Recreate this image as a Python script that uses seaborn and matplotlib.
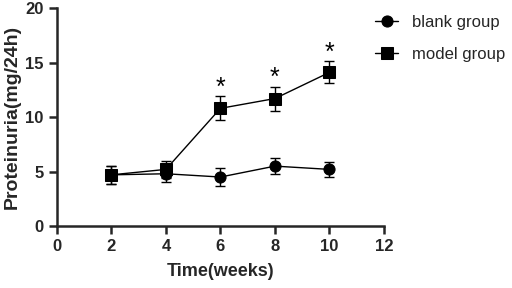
import numpy as np
import pandas as pd
import matplotlib
matplotlib.use("Agg")
import matplotlib.pyplot as plt
import seaborn as sns

# valeurs (moyenne ± erreur)
weeks = [2, 4, 6, 8, 10]
blank_mean = [4.7, 4.8, 4.5, 5.5, 5.2]
blank_err = [0.8, 0.8, 0.8, 0.7, 0.7]
model_mean = [4.7, 5.2, 10.8, 11.7, 14.1]
model_err = [0.8, 0.8, 1.1, 1.1, 1.0]
star_weeks = [6, 8, 10]

df = pd.DataFrame({
    "week": weeks * 2,
    "value": blank_mean + model_mean,
    "group": ["blank group"] * 5 + ["model group"] * 5,
})

sns.set_style("ticks")
plt.rcParams["font.family"] = ["Liberation Sans", "DejaVu Sans"]

fig = plt.figure(figsize=(5.12, 2.88), dpi=100)
ax = fig.add_axes([0.111, 0.215, 0.639, 0.757])

sns.lineplot(data=df, x="week", y="value", hue="group", style="group",
             markers={"blank group": "o", "model group": "s"}, dashes=False,
             palette={"blank group": "black", "model group": "black"},
             markersize=8, linewidth=1, markeredgecolor="black", ax=ax)

ax.errorbar(weeks, blank_mean, yerr=blank_err, fmt="none", ecolor="black",
            elinewidth=1, capsize=3.5, capthick=1)
ax.errorbar(weeks, model_mean, yerr=model_err, fmt="none", ecolor="black",
            elinewidth=1, capsize=3.5, capthick=1)

for w in star_weeks:
    i = weeks.index(w)
    ax.text(w, model_mean[i] + model_err[i] - 0.3, "*", ha="center", va="bottom",
            fontsize=18, color="black")

ax.set_xlim(0, 12)
ax.set_ylim(0, 20)
ax.set_xticks([0, 2, 4, 6, 8, 10, 12])
ax.set_yticks([0, 5, 10, 15, 20])
ax.set_xlabel("Time(weeks)", fontsize=13, fontweight="bold", labelpad=6)
ax.set_ylabel("Proteinuria(mg/24h)", fontsize=14, fontweight="bold", labelpad=3)
ax.tick_params(labelsize=12, width=1.8, length=6)
for lab in ax.get_xticklabels() + ax.get_yticklabels():
    lab.set_fontweight("bold")
for s in ["left", "bottom"]:
    ax.spines[s].set_linewidth(1.8)
sns.despine(ax=ax)

ax.legend(loc="upper left", bbox_to_anchor=(0.703, 1.0), bbox_transform=fig.transFigure,
          frameon=False, fontsize=12, handlelength=1.4, handletextpad=0.8,
          labelspacing=1.0)

fig.savefig("out.png", dpi=100)
